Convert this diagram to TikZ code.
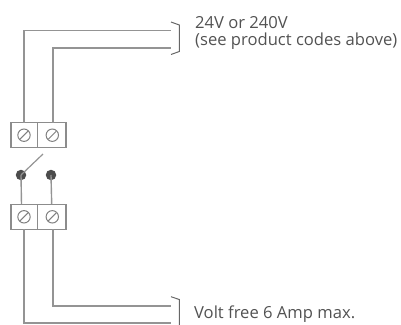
\documentclass[tikz,border=0pt]{standalone}
\usepackage{fontspec}
\setmainfont{Open Sans}
\begin{document}
\begin{tikzpicture}[x=1pt,y=-1pt,
  wire/.style={draw=black!42,line width=1.4pt},
  blk/.style={draw=black!45,line width=1.2pt},
  screw/.style={draw=black!50,line width=1pt},
  brk/.style={draw=black!60,line width=1pt},
  dot/.style={circle,fill=black!70,inner sep=0pt,minimum size=10.5pt},
  lbl/.style={anchor=base west,inner sep=0pt,text=black!68,font=\fontsize{16.6}{19}\selectfont}]
\useasboundingbox (0,0) rectangle (401,324);
% terminal blocks
\foreach \n/\y in {T/122.7,B/204.3}{
  \draw[blk] (11,\y) rectangle (66,\y+25);
  \draw[blk] (37.7,\y) -- (37.7,\y+25);
  \foreach \cx in {24,52.3}{
    \draw[screw] (\cx,\y+12.5) circle (6.2);
    \draw[screw] (\cx-4,\y+16.5) -- (\cx+4,\y+8.5);
  }
}
% coordinates
\coordinate (t1) at (24,122.7);
\coordinate (t2) at (53,122.7);
\coordinate (b1) at (24,229.3);
\coordinate (b2) at (53,229.3);
\coordinate (a1) at (171,30.5);
\coordinate (a2) at (171,48);
\coordinate (c2) at (171,306);
\coordinate (c1) at (171,323);
% wires
\draw[wire] (t1) |- (a1);
\draw[wire] (t2) |- (a2);
\draw[wire] (b2) |- (c2);
\draw[wire] (b1) |- (c1);
% switch
\node[dot] (s1) at (21,175) {};
\node[dot] (s2) at (51,175) {};
\coordinate (sb) at (43,154);
\draw[wire] (s1.center) -- (21.5,204.3);
\draw[wire] (s2.center) -- (51.7,204.3);
\draw[wire,line width=1.2pt] (s1.center) -- (sb);
% brackets
\draw[brk] (171,22) -- (179.3,25) -- (179.3,51.5) -- (171,54.5);
\draw[brk] (171,296.7) -- (179.3,299.5) -- (179.3,326);
% labels
\node[lbl] (l1) at (195,28) {24V or 240V};
\node[lbl] (l2) at (195,45.5) {(see product codes above)};
\node[lbl] (l3) at (194,318.3) {Volt free 6 Amp max.};
\end{tikzpicture}
\end{document}
